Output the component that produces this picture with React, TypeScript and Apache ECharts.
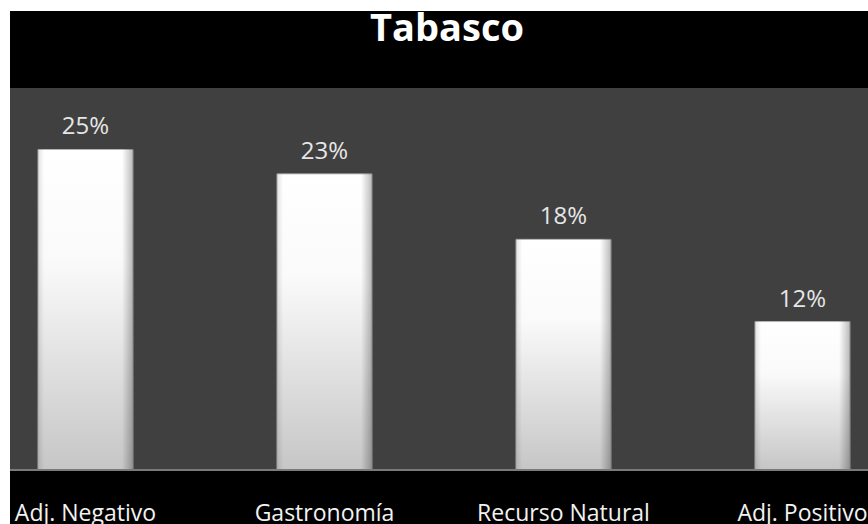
import React, { useEffect, useRef } from "react";
import * as echarts from "echarts";

const title = "Tabasco";
const categories = ["Adj. Negativo", "Gastronomía", "Recurso Natural", "Adj. Positivo"];
const values = [25.0, 23.1, 18.0, 11.6];
const labels = ["25%", "23%", "18%", "12%"];

const OFFSET = 34; // inner chart starts 34px left of the page

export default function App() {
  const ref = useRef<HTMLDivElement>(null);
  useEffect(() => {
    document.body.style.margin = "0";
    const chart = echarts.init(ref.current!, null, { renderer: "svg" });
    const px = (x: number) => x + OFFSET;
    chart.setOption({
      animation: false,
      backgroundColor: "#ffffff",
      graphic: [
        { type: "rect", z: -10, shape: { x: px(10), y: 11, width: 858, height: 513 }, style: { fill: "#000000" } },
        { type: "rect", z: -9, shape: { x: px(10), y: 88, width: 858, height: 382 }, style: { fill: "#404040" } },
        {
          type: "line",
          z: 10,
          shape: { x1: px(10), y1: 470, x2: px(868), y2: 470 },
          style: { stroke: "#7a7a7a", lineWidth: 2 },
        },
        {
          type: "text",
          z: 10,
          x: px(447),
          y: 7,
          style: {
            text: title,
            fill: "#ffffff",
            font: "bold 38px 'Open Sans'",
            align: "center",
            verticalAlign: "top",
          },
        },
      ],
      grid: { left: 0, right: 0, top: 88, bottom: 54, containLabel: false },
      xAxis: {
        type: "category",
        data: categories,
        axisLine: { show: false },
        axisTick: { show: false },
        axisLabel: {
          color: "#f2f2f2",
          fontFamily: "Open Sans",
          fontSize: 23,
          margin: 30,
          interval: 0,
        },
        splitLine: { show: false },
      },
      yAxis: { type: "value", min: 0, max: 29.75, show: false, splitLine: { show: false } },
      series: [
        {
          type: "bar",
          data: values,
          barWidth: 96,
          z: 2,
          itemStyle: {
            color: {
              type: "linear",
              x: 0, y: 0, x2: 0, y2: 1,
              colorStops: [
                { offset: 0, color: "#ffffff" },
                { offset: 0.35, color: "#fafafa" },
                { offset: 1, color: "#c6c6c6" },
              ],
            },
            borderColor: "#b5b5b5",
            borderWidth: 1,
          },
          label: {
            show: true,
            position: "top",
            distance: 12,
            color: "#e6e6e6",
            fontFamily: "Open Sans",
            fontSize: 24,
            formatter: (p: any) => labels[p.dataIndex],
          },
        },
        {
          type: "bar",
          data: values,
          barWidth: 96,
          barGap: "-100%",
          z: 3,
          silent: true,
          itemStyle: {
            color: {
              type: "linear",
              x: 0, y: 0, x2: 1, y2: 0,
              colorStops: [
                { offset: 0, color: "rgba(0,0,0,0.12)" },
                { offset: 0.07, color: "rgba(0,0,0,0)" },
                { offset: 0.88, color: "rgba(0,0,0,0)" },
                { offset: 1, color: "rgba(0,0,0,0.28)" },
              ],
            },
          },
        },
      ],
    });
    return () => chart.dispose();
  }, []);
  return (
    <div style={{ position: "relative", width: 868, height: 524, overflow: "hidden" }}>
      <div ref={ref} style={{ position: "absolute", left: -OFFSET, top: 0, width: 956, height: 524 }} />
    </div>
  );
}
